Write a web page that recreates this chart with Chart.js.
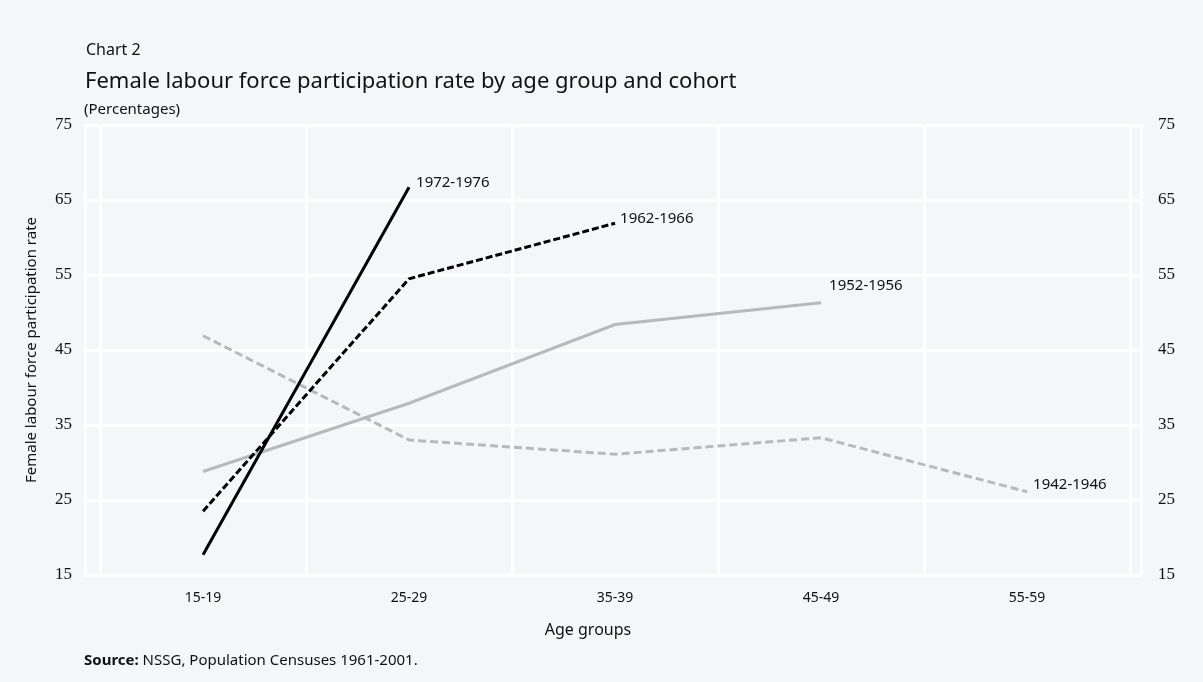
<!DOCTYPE html>
<html>
<head>
<meta charset="utf-8">
<script src="https://cdn.jsdelivr.net/npm/chart.js@4.4.1/dist/chart.umd.min.js"></script>
<style>
  html, body { margin: 0; padding: 0; background: #f5f6f8; }
  #wrap { width: 1203px; height: 682px; position: relative; }
</style>
</head>
<body>
<div id="wrap"><canvas id="fig"></canvas></div>
<script>
// age groups on the x axis
const ageGroups = ['15-19', '25-29', '35-39', '45-49', '55-59'];
const yTicks = [15, 25, 35, 45, 55, 65, 75];

// cohorts, values in %
const cohorts = ['1972-1976', '1962-1966', '1952-1956', '1942-1946'];
const c1972 = [17.7, 66.7];
const c1962 = [23.5, 54.5, 61.9];
const c1952 = [28.8, 37.9, 48.4, 51.3];
const c1942 = [46.9, 33.0, 31.1, 33.3, 26.1];

const SANS = '"Noto Sans", sans-serif';
const SERIF = '"Liberation Serif", serif';

// nudge for the end labels (px)
const labelNudge = [[7, -5], [5, -5], [8, -17], [6, -7]];

function pts(arr) {
    return arr.map((v, i) => ({ x: i, y: v }));
}

const seriesStyle = [
    { color: '#000000', dash: [] },
    { color: '#000000', dash: [7, 3] },
    { color: '#b9b9b9', dash: [] },
    { color: '#b9b9b9', dash: [8, 4] }
];

const seriesData = [c1972, c1962, c1952, c1942];

const datasets = seriesData.map((arr, k) => ({
    label: cohorts[k],
    data: pts(arr),
    borderColor: seriesStyle[k].color,
    borderDash: seriesStyle[k].dash,
    borderWidth: 3,
    pointRadius: 0,
    fill: false,
    tension: 0,
    yAxisID: 'y'
}));

// header, source line, x title and the cohort labels
const textPlugin = {
    id: 'texts',
    afterDatasetsDraw(chart) {
        const ctx = chart.ctx;
        ctx.save();
        ctx.fillStyle = '#111';
        ctx.textAlign = 'left';
        ctx.textBaseline = 'middle';
        ctx.font = '15px ' + SANS;
        chart.data.datasets.forEach((ds, k) => {
            const meta = chart.getDatasetMeta(k);
            const last = meta.data[meta.data.length - 1];
            ctx.fillText(ds.label, last.x + labelNudge[k][0], last.y + labelNudge[k][1]);
        });
        ctx.restore();
    },
    afterDraw(chart) {
        const ctx = chart.ctx;
        ctx.save();
        ctx.fillStyle = '#111';
        ctx.textAlign = 'left';
        ctx.textBaseline = 'middle';
        ctx.font = '16px ' + SANS;
        ctx.fillText('Chart 2', 86, 50);
        ctx.font = '22px ' + SANS;
        ctx.fillText('Female labour force participation rate by age group and cohort', 85, 82);
        ctx.font = '15px ' + SANS;
        ctx.fillText('(Percentages)', 84, 110);
        ctx.font = 'bold 15px ' + SANS;
        ctx.fillText('Source:', 84, 661);
        const w = ctx.measureText('Source: ').width;
        ctx.font = '15px ' + SANS;
        ctx.fillText('NSSG, Population Censuses 1961-2001.', 84 + w, 661);
        ctx.textAlign = 'center';
        ctx.font = '16px ' + SANS;
        ctx.fillText('Age groups', 588, 630);
        ctx.restore();
    }
};

new Chart(document.getElementById('fig'), {
    type: 'line',
    data: { datasets: datasets },
    plugins: [textPlugin],
    options: {
        responsive: true,
        maintainAspectRatio: false,
        animation: false,
        layout: { padding: { top: 125, left: 10, right: 20, bottom: 40 } },
        plugins: {
            legend: { display: false },
            tooltip: { enabled: false }
        },
        scales: {
            x: {
                type: 'linear',
                min: -0.573,
                max: 4.553,
                afterBuildTicks: (scale) => {
                    scale.ticks = ageGroups.map((_, i) => ({ value: i }));
                },
                ticks: {
                    callback: (v) => ageGroups[v],
                    color: '#111',
                    font: { family: SANS, size: 14 },
                    padding: 15,
                    maxRotation: 0
                },
                grid: { color: '#ffffff', lineWidth: 3, offset: true, drawTicks: false },
                border: { display: false },
                afterFit: (scale) => { scale.height = 67; }
            },
            y: {
                position: 'left',
                min: 15,
                max: 75,
                afterBuildTicks: (scale) => {
                    scale.ticks = yTicks.map(v => ({ value: v }));
                },
                ticks: {
                    color: '#111',
                    font: { family: SERIF, size: 17 },
                    padding: 13
                },
                grid: { color: '#ffffff', lineWidth: 3, drawTicks: false },
                border: { color: '#ffffff', width: 3 },
                title: {
                    display: true,
                    text: 'Female labour force participation rate',
                    color: '#111',
                    font: { family: SANS, size: 15 },
                    padding: { top: 13, bottom: 0 }
                },
                afterFit: (scale) => { scale.width = 75; }
            },
            y2: {
                position: 'right',
                min: 15,
                max: 75,
                afterBuildTicks: (scale) => {
                    scale.ticks = yTicks.map(v => ({ value: v }));
                },
                ticks: {
                    color: '#111',
                    font: { family: SERIF, size: 17 },
                    padding: 17
                },
                grid: { display: false, drawTicks: false },
                border: { color: '#ffffff', width: 3 },
                afterFit: (scale) => { scale.width = 42; }
            }
        }
    }
});
</script>
</body>
</html>
